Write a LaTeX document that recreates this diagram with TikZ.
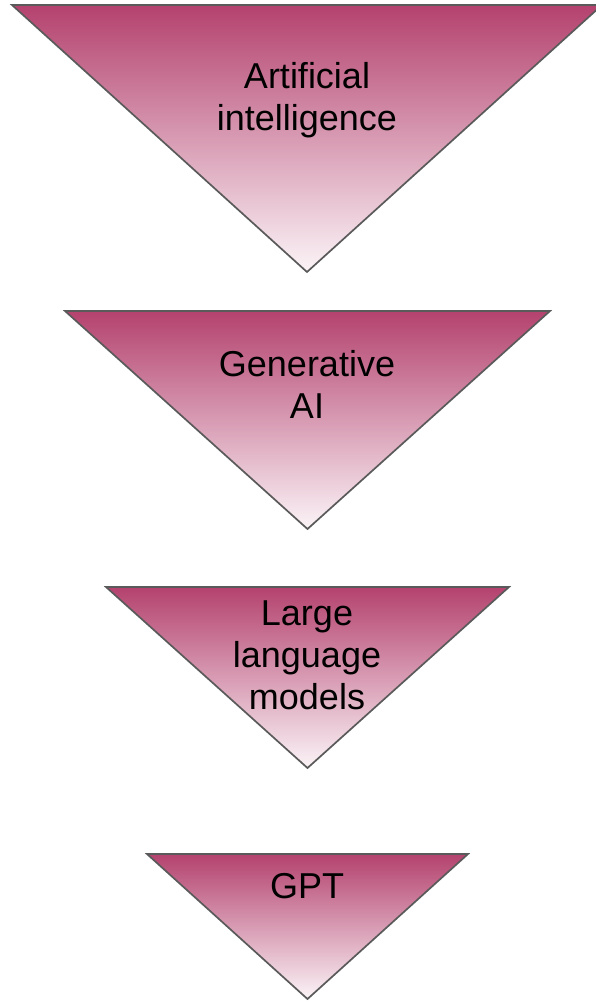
\documentclass[tikz,border=0pt]{standalone}
\usepackage{fontspec}
\setmainfont{Liberation Sans}
\definecolor{topc}{RGB}{180,66,110}
\definecolor{botc}{RGB}{251,244,247}
\definecolor{edgec}{RGB}{90,90,90}
\begin{document}
\begin{tikzpicture}[x=1pt,y=-1pt,
  tri/.style={draw=edgec,line width=1.7pt,line join=miter,top color=topc,bottom color=botc},
  lbl/.style={align=center,font=\fontsize{36}{42}\selectfont,inner sep=0pt,text=black}]
\useasboundingbox (0,0) rectangle (595,1001);
\path[tri] (12,5) -- (602,5) -- (307,272) -- cycle;
\path[tri] (65,311) -- (550,311) -- (307.5,529) -- cycle;
\path[tri] (106,587) -- (509,587) -- (307.5,768) -- cycle;
\path[tri] (147,854) -- (468,854) -- (307.5,999) -- cycle;
\node[lbl] (ai) at (307,100) {Artificial\\intelligence};
\node[lbl] (gen) at (307,384) {Generative\\AI};
\node[lbl] (llm) at (307,655) {Large\\language\\models};
\node[lbl] (gpt) at (307,886) {GPT};
\end{tikzpicture}
\end{document}
